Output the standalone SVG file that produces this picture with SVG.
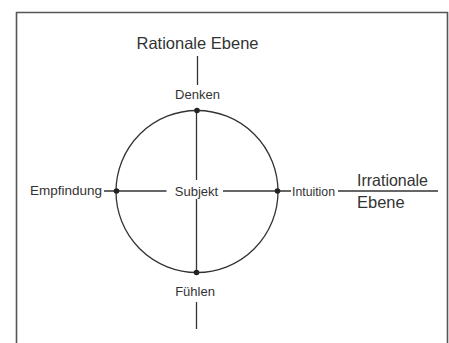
<svg xmlns="http://www.w3.org/2000/svg" width="449" height="343" viewBox="0 0 449 343">
<style>
.ln{stroke:#333;stroke-width:1.3;fill:none}
.t{font-family:"Liberation Sans",Arial,sans-serif;fill:#333}
.s{font-size:13px}
.b{font-size:16.5px}
.dot{fill:#222}
</style>
<rect width="449" height="343" fill="#fff"/>
<path d="M16.5 345 V12.5 H447.5 V345" stroke="#555" stroke-width="1.6" fill="none"/>
<g id="connectors">
<circle class="ln" cx="197" cy="191.5" r="81"/>
<line class="ln" x1="197.5" y1="56" x2="197.5" y2="85"/>
<line class="ln" x1="196.5" y1="110" x2="196.5" y2="180"/>
<line class="ln" x1="196.5" y1="199" x2="196.5" y2="273"/>
<line class="ln" x1="196.5" y1="302" x2="196.5" y2="329"/>
<line class="ln" x1="104" y1="191" x2="166.5" y2="191"/>
<line class="ln" x1="223" y1="191" x2="291" y2="191"/>
<line class="ln" x1="338" y1="191" x2="438" y2="191"/>
</g>
<g id="rationale"><text class="t b" x="197.5" y="48.5" text-anchor="middle">Rationale Ebene</text></g>
<g id="denken"><text class="t s" x="197.5" y="98.5" text-anchor="middle">Denken</text><circle class="dot" cx="197" cy="110.5" r="2.8"/></g>
<g id="fuehlen"><text class="t s" x="195" y="296" text-anchor="middle">Fühlen</text><circle class="dot" cx="196.5" cy="272.5" r="2.8"/></g>
<g id="empfindung"><text class="t s" x="102" y="195" text-anchor="end" textLength="72" lengthAdjust="spacingAndGlyphs">Empfindung</text><circle class="dot" cx="116.5" cy="191" r="2.8"/></g>
<g id="subjekt"><text class="t s" x="196.5" y="195.5" text-anchor="middle">Subjekt</text></g>
<g id="intuition"><text class="t s" x="292" y="195.5" textLength="43" lengthAdjust="spacingAndGlyphs">Intuition</text><circle class="dot" cx="277.5" cy="191" r="2.8"/></g>
<g id="irrationale"><text class="t b" x="357" y="185.5" textLength="71" lengthAdjust="spacingAndGlyphs">Irrationale</text><text class="t b" x="357" y="208">Ebene</text></g>
</svg>
